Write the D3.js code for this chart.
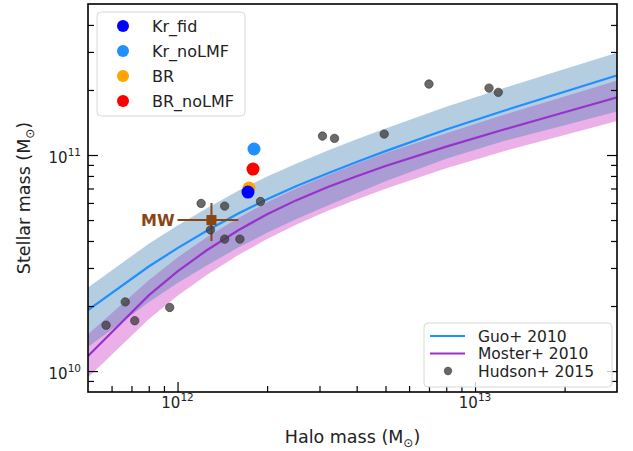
<!DOCTYPE html>
<html><head><meta charset="utf-8">
<script src="https://cdn.jsdelivr.net/npm/d3@7"></script>
<style>body{margin:0;background:#fff;} svg{display:block;font-family:"DejaVu Sans",sans-serif;}</style>
</head><body><svg id="chart" width="633" height="451"></svg>
<script>
// ---- data ----
const haloGrid   = [5e11, 8e11, 1e12, 1.25e12, 1.6e12, 2e12, 2.5e12, 3.2e12, 4e12, 5e12, 8e12, 1.25e13, 2e13, 3.2e13];
const guoMid     = [1.914e10, 3.048e10, 3.707e10, 4.446e10, 5.358e10, 6.237e10, 7.161e10, 8.241e10, 9.290e10, 1.042e11, 1.312e11, 1.603e11, 1.963e11, 2.404e11];
const guoHigh    = [2.437e10, 3.882e10, 4.721e10, 5.662e10, 6.824e10, 7.943e10, 9.120e10, 1.0495e11, 1.183e11, 1.327e11, 1.671e11, 2.041e11, 2.500e11, 3.061e11];
const guoLow     = [1.294e10, 2.084e10, 2.553e10, 3.076e10, 3.733e10, 4.365e10, 5.047e10, 5.834e10, 6.653e10, 7.551e10, 9.616e10, 1.161e11, 1.374e11, 1.626e11];
const mosterMid  = [1.175e10, 2.239e10, 2.891e10, 3.614e10, 4.487e10, 5.321e10, 6.166e10, 7.112e10, 7.980e10, 8.892e10, 1.094e11, 1.312e11, 1.578e11, 1.897e11];
const mosterHigh = [1.479e10, 2.630e10, 3.357e10, 4.150e10, 5.117e10, 6.039e10, 6.998e10, 8.072e10, 9.099e10, 1.021e11, 1.262e11, 1.535e11, 1.866e11, 2.270e11];
const mosterLow  = [9.333e9, 1.738e10, 2.234e10, 2.780e10, 3.443e10, 4.083e10, 4.753e10, 5.521e10, 6.223e10, 6.982e10, 8.690e10, 1.042e11, 1.239e11, 1.472e11];

const hudsonHalo    = [5.75e11, 6.67e11, 7.18e11, 9.41e11, 1.20e12, 1.29e12, 1.44e12, 1.44e12, 1.62e12, 1.90e12, 3.07e12, 3.37e12, 4.95e12, 7.0e12, 1.114e13, 1.197e13];
const hudsonStellar = [1.63e10, 2.09e10, 1.71e10, 1.97e10, 5.97e10, 4.50e10, 5.80e10, 4.08e10, 4.08e10, 6.09e10, 1.224e11, 1.194e11, 1.25e11, 2.13e11, 2.04e11, 1.95e11];

const simNames   = ["Kr_fid", "Kr_noLMF", "BR", "BR_noLMF"];
const simHalo    = [1.725e12, 1.807e12, 1.738e12, 1.793e12];
const simStellar = [6.74e10, 1.066e11, 7.03e10, 8.61e10];

const mwHalo = 1.3e12, mwHaloLo = 1.0e12, mwHaloHi = 1.6e12;
const mwStellar = 5.0e10, mwStellarLo = 4.0e10, mwStellarHi = 6.0e10;

const xMajor = [1e12, 1e13], xMajorExp = ["12", "13"];
const xMinor = [6e11, 7e11, 8e11, 9e11, 2e12, 3e12, 4e12, 5e12, 6e12, 7e12, 8e12, 9e12, 2e13];
const yMajor = [1e10, 1e11], yMajorExp = ["10", "11"];
const yMinor = [9e9, 2e10, 3e10, 4e10, 5e10, 6e10, 7e10, 8e10, 9e10, 2e11, 3e11, 4e11];

// ---- styles ----
const simColors = {"Kr_fid": "#0000ff", "Kr_noLMF": "#1e90ff", "BR": "#ffa500", "BR_noLMF": "#ff0000"};
const drawOrder = ["BR", "Kr_fid", "Kr_noLMF", "BR_noLMF"];
const brown = "#8b4513";

const svg = d3.select("#chart");
const L = 88, R = 617, T = 4, B = 392;
const x = d3.scaleLog().domain([5e11, 3e13]).range([L, R]);
const y = d3.scaleLog().domain([8e9, 5e11]).range([B, T]);

svg.append("defs").append("clipPath").attr("id", "clip")
  .append("rect").attr("x", L).attr("y", T).attr("width", R - L).attr("height", B - T);
const plot = svg.append("g").attr("clip-path", "url(#clip)");

const idx = d3.range(haloGrid.length);
const area = (lo, hi) => d3.area().x(i => x(haloGrid[i])).y0(i => y(lo[i])).y1(i => y(hi[i]));
const line = (m) => d3.line().x(i => x(haloGrid[i])).y(i => y(m[i]));

plot.append("path").attr("d", area(mosterLow, mosterHigh)(idx)).attr("fill", "#da70d6").attr("fill-opacity", 0.55);
plot.append("path").attr("d", area(guoLow, guoHigh)(idx)).attr("fill", "#4682b4").attr("fill-opacity", 0.4);
plot.append("path").attr("d", line(guoMid)(idx)).attr("fill", "none").attr("stroke", "#1e90ff").attr("stroke-width", 2.2);
plot.append("path").attr("d", line(mosterMid)(idx)).attr("fill", "none").attr("stroke", "#9932cc").attr("stroke-width", 2.2);

// MW
const mw = plot.append("g");
mw.append("line").attr("x1", x(mwHaloLo)).attr("x2", x(mwHaloHi)).attr("y1", y(mwStellar)).attr("y2", y(mwStellar))
  .attr("stroke", brown).attr("stroke-width", 2);
mw.append("line").attr("x1", x(mwHalo)).attr("x2", x(mwHalo)).attr("y1", y(mwStellarLo)).attr("y2", y(mwStellarHi))
  .attr("stroke", brown).attr("stroke-width", 2);
mw.append("rect").attr("x", x(mwHalo) - 5).attr("y", y(mwStellar) - 5).attr("width", 10).attr("height", 10).attr("fill", brown);
svg.append("text").attr("x", x(mwHaloLo) - 3).attr("y", y(mwStellar) + 6).attr("text-anchor", "end")
  .attr("font-size", 16).attr("font-weight", "bold").attr("fill", brown).text("MW");

// Hudson points
plot.selectAll("circle.hud").data(d3.range(hudsonHalo.length)).join("circle").attr("class", "hud")
  .attr("cx", i => x(hudsonHalo[i])).attr("cy", i => y(hudsonStellar[i])).attr("r", 4.2)
  .attr("fill", "#404040").attr("fill-opacity", 0.78).attr("stroke", "#333").attr("stroke-opacity", 0.8).attr("stroke-width", 0.8);

// Simulation points
plot.selectAll("circle.sim").data(drawOrder).join("circle").attr("class", "sim")
  .attr("cx", n => x(simHalo[simNames.indexOf(n)])).attr("cy", n => y(simStellar[simNames.indexOf(n)]))
  .attr("r", 6.5).attr("fill", n => simColors[n]);

// ---- axes ----
function addTicks(axis, transform, values, size) {
  const g = svg.append("g").attr("transform", transform)
    .call(axis.tickValues(values).tickSizeInner(size).tickSizeOuter(0).tickFormat(""));
  g.select(".domain").remove();
  g.selectAll("line").attr("stroke", "#000").attr("stroke-width", 1.2);
}
addTicks(d3.axisBottom(x), `translate(0,${B})`, xMinor, -6);
addTicks(d3.axisBottom(x), `translate(0,${B})`, xMajor, -10);
addTicks(d3.axisLeft(y), `translate(${L},0)`, yMinor, -6);
addTicks(d3.axisLeft(y), `translate(${L},0)`, yMajor, -10);
addTicks(d3.axisRight(y), `translate(${R},0)`, yMinor, -6);
addTicks(d3.axisRight(y), `translate(${R},0)`, yMajor, -10);

svg.append("rect").attr("x", L).attr("y", T).attr("width", R - L).attr("height", B - T)
  .attr("fill", "none").attr("stroke", "#000").attr("stroke-width", 1.6);

xMajor.forEach((v, i) => {
  const t = svg.append("text").attr("x", x(v)).attr("y", B + 16).attr("text-anchor", "middle").attr("font-size", 15).attr("fill", "#222");
  t.append("tspan").text("10");
  t.append("tspan").attr("dy", -7).attr("font-size", 10.5).text(xMajorExp[i]);
});
yMajor.forEach((v, i) => {
  const t = svg.append("text").attr("x", L - 7).attr("y", y(v) + 8).attr("text-anchor", "end").attr("font-size", 15).attr("fill", "#222");
  t.append("tspan").text("10");
  t.append("tspan").attr("dy", -7).attr("font-size", 10.5).text(yMajorExp[i]);
});

// axis titles
const xt = svg.append("text").attr("x", (L + R) / 2).attr("y", 443).attr("text-anchor", "middle").attr("font-size", 17.5).attr("fill", "#222");
xt.append("tspan").text("Halo mass (M");
xt.append("tspan").attr("dy", 4).attr("font-size", 12).text("\u2299");
xt.append("tspan").attr("dy", -4).text(")");
const yt = svg.append("text").attr("transform", `translate(30,${(T + B) / 2}) rotate(-90)`).attr("text-anchor", "middle").attr("font-size", 17.5).attr("fill", "#222");
yt.append("tspan").text("Stellar mass (M");
yt.append("tspan").attr("dy", 4).attr("font-size", 12).text("\u2299");
yt.append("tspan").attr("dy", -4).text(")");

// ---- legends ----
const lg1 = svg.append("g");
lg1.append("rect").attr("x", 97).attr("y", 12).attr("width", 148).attr("height", 104).attr("rx", 4)
  .attr("fill", "#fff").attr("fill-opacity", 0.8).attr("stroke", "#d8d8d8");
simNames.forEach((n, i) => {
  const cy = 26 + 25 * i;
  lg1.append("circle").attr("cx", 123).attr("cy", cy).attr("r", 6).attr("fill", simColors[n]);
  lg1.append("text").attr("x", 152).attr("y", cy + 6).attr("font-size", 16).attr("fill", "#222").text(n);
});

const lg2 = svg.append("g");
lg2.append("rect").attr("x", 424).attr("y", 323).attr("width", 188).attr("height", 64).attr("rx", 4)
  .attr("fill", "#fff").attr("fill-opacity", 0.8).attr("stroke", "#d8d8d8");
const lg2Items = [["line", "#1e90ff", "Guo+ 2010"], ["line", "#9932cc", "Moster+ 2010"], ["dot", "#404040", "Hudson+ 2015"]];
lg2Items.forEach((d, i) => {
  const cy = 336 + 17.5 * i;
  if (d[0] === "line") lg2.append("line").attr("x1", 430).attr("x2", 465).attr("y1", cy).attr("y2", cy).attr("stroke", d[1]).attr("stroke-width", 2.2);
  else lg2.append("circle").attr("cx", 448).attr("cy", cy).attr("r", 4.2).attr("fill", d[1]).attr("fill-opacity", 0.8);
  lg2.append("text").attr("x", 478).attr("y", cy + 5.5).attr("font-size", 15.5).attr("fill", "#222").text(d[2]);
});
</script></body></html>
